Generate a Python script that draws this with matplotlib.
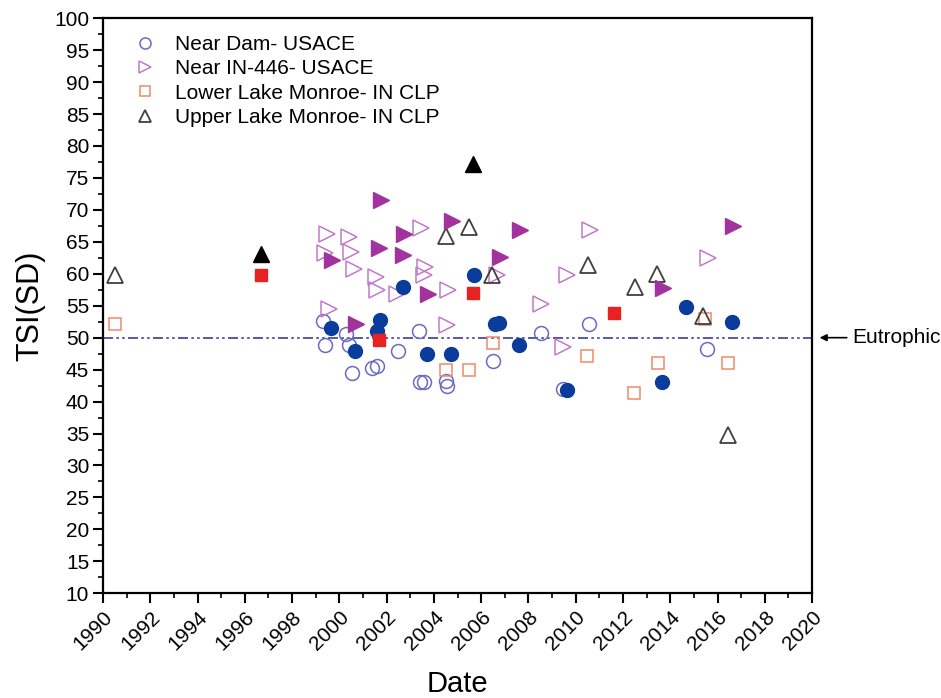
import matplotlib
matplotlib.use("Agg")
import matplotlib.pyplot as plt
from matplotlib.ticker import MultipleLocator

plt.rcParams['font.family'] = ['Liberation Sans', 'DejaVu Sans']

# Near Dam - USACE (open = one set, filled = other)
dam_open_x = [1999.32, 1999.4, 2000.3, 2000.42, 2000.52, 2001.4, 2001.6, 2002.46, 2003.37,
              2003.4, 2003.6, 2004.52, 2004.57, 2006.52, 2008.52, 2010.58, 2015.54, 2009.48]
dam_open_y = [52.6, 48.8, 50.6, 48.8, 44.5, 45.3, 45.6, 47.9, 51.0,
              43.1, 43.0, 43.2, 42.4, 46.4, 50.8, 52.2, 48.2, 42.0]
dam_fill_x = [1999.64, 2000.66, 2001.7, 2001.61, 2002.71, 2003.69, 2004.73, 2005.71,
              2006.59, 2006.76, 2007.6, 2009.62, 2014.65, 2016.63, 2013.63]
dam_fill_y = [51.5, 47.9, 52.7, 51.1, 58.0, 47.4, 47.5, 59.8,
              52.1, 52.3, 48.8, 41.8, 54.8, 52.4, 43.0]

# Near IN-446 - USACE
in446_open_x = [1999.46, 1999.4, 1999.55, 2000.42, 2000.5, 2000.6, 2001.55, 2001.58, 2002.42,
                2003.46, 2003.63, 2003.56, 2004.61, 2004.54, 2006.66, 2008.54, 2010.6,
                2009.62, 2009.48, 2015.6]
in446_open_y = [66.3, 63.3, 54.5, 65.7, 63.4, 60.8, 59.5, 57.4, 56.9,
                67.2, 61.1, 59.8, 57.4, 52.0, 59.8, 55.3, 66.8,
                59.8, 48.6, 62.5]
in446_fill_x = [1999.67, 2001.77, 2002.75, 2001.68, 2002.7, 2004.78, 2003.77, 2000.7,
                2007.65, 2006.8, 2016.67, 2013.71]
in446_fill_y = [62.2, 71.6, 66.2, 64.1, 63.0, 68.3, 56.8, 52.2,
                66.8, 62.7, 67.4, 57.7]

# Lower Lake Monroe - IN CLP
lower_open_x = [1990.5, 2006.48, 2004.49, 2005.47, 2010.49, 2012.47, 2013.46, 2015.45, 2016.43]
lower_open_y = [52.1, 49.1, 44.9, 44.9, 47.2, 41.3, 46.0, 52.9, 46.0]
lower_fill_x = [1996.67, 2001.68, 2005.64, 2011.64]
lower_fill_y = [59.8, 49.7, 57.0, 53.8]

# Upper Lake Monroe - IN CLP
upper_open_x = [1990.5, 2004.5, 2005.5, 2006.46, 2010.5, 2012.5, 2013.45, 2016.44, 2015.4]
upper_open_y = [59.8, 65.9, 67.3, 59.8, 61.3, 57.9, 59.9, 34.7, 53.4]
upper_fill_x = [1996.67, 2005.67]
upper_fill_y = [63.1, 77.2]

eutrophic = 50

fig = plt.figure(figsize=(9.41, 6.98), dpi=100)
ax = fig.add_axes([0.1095, 0.150, 0.7535, 0.824])

ms = 10
ax.axhline(eutrophic, color='#3a3aa8', lw=1.2, linestyle=(0, (6, 2, 1.5, 2, 1.5, 2)), zorder=1)

ax.plot(dam_open_x, dam_open_y, 'o', ms=ms, mfc='none', mec='#6a6ac8', mew=1.1,
        label='Near Dam- USACE', zorder=3)
ax.plot(in446_open_x, in446_open_y, '>', ms=ms + 1, mfc='none', mec='#c07ac8', mew=1.1,
        label='Near IN-446- USACE', zorder=3)
ax.plot(lower_open_x, lower_open_y, 's', ms=ms - 1.5, mfc='none', mec='#f08a6a', mew=1.1,
        label='Lower Lake Monroe- IN CLP', zorder=3)
ax.plot(upper_open_x, upper_open_y, '^', ms=ms + 1, mfc='none', mec='#404040', mew=1.3,
        label='Upper Lake Monroe- IN CLP', zorder=3)

ax.plot(dam_fill_x, dam_fill_y, 'o', ms=ms, color='#0b3c9c', zorder=4)
ax.plot(in446_fill_x, in446_fill_y, '>', ms=ms + 1, color='#a2329e', zorder=4)
ax.plot(lower_fill_x, lower_fill_y, 's', ms=ms - 1.5, color='#e82222', zorder=4)
ax.plot(upper_fill_x, upper_fill_y, '^', ms=ms + 1, color='black', zorder=4)

ax.set_xlim(1990, 2020)
ax.set_ylim(10, 100)
ax.xaxis.set_major_locator(MultipleLocator(2))
ax.xaxis.set_minor_locator(MultipleLocator(1))
ax.yaxis.set_major_locator(MultipleLocator(5))
ax.yaxis.set_minor_locator(MultipleLocator(2.5))
ax.tick_params(which='major', length=7, width=1.5, labelsize=15, pad=3)
ax.tick_params(which='minor', length=3.5, width=1.2)
for lab in ax.get_xticklabels():
    lab.set_rotation(45)
    lab.set_ha('right')
    lab.set_rotation_mode('anchor')
for s in ax.spines.values():
    s.set_linewidth(1.6)

ax.set_xlabel('Date', fontsize=21, labelpad=12)
ax.set_ylabel('TSI(SD)', fontsize=22, labelpad=6)

ax.legend(loc='upper left', frameon=False, fontsize=15, handletextpad=0.43,
          labelspacing=0.25, markerscale=0.8, bbox_to_anchor=(0.004, 1.003))

ax.annotate('Eutrophic', xy=(2020.2, eutrophic), xytext=(2021.7, eutrophic),
            fontsize=15, va='center', ha='left', annotation_clip=False,
            arrowprops=dict(arrowstyle='-|>', color='black', lw=1.2, mutation_scale=10))

fig.savefig('out.png', dpi=100)
